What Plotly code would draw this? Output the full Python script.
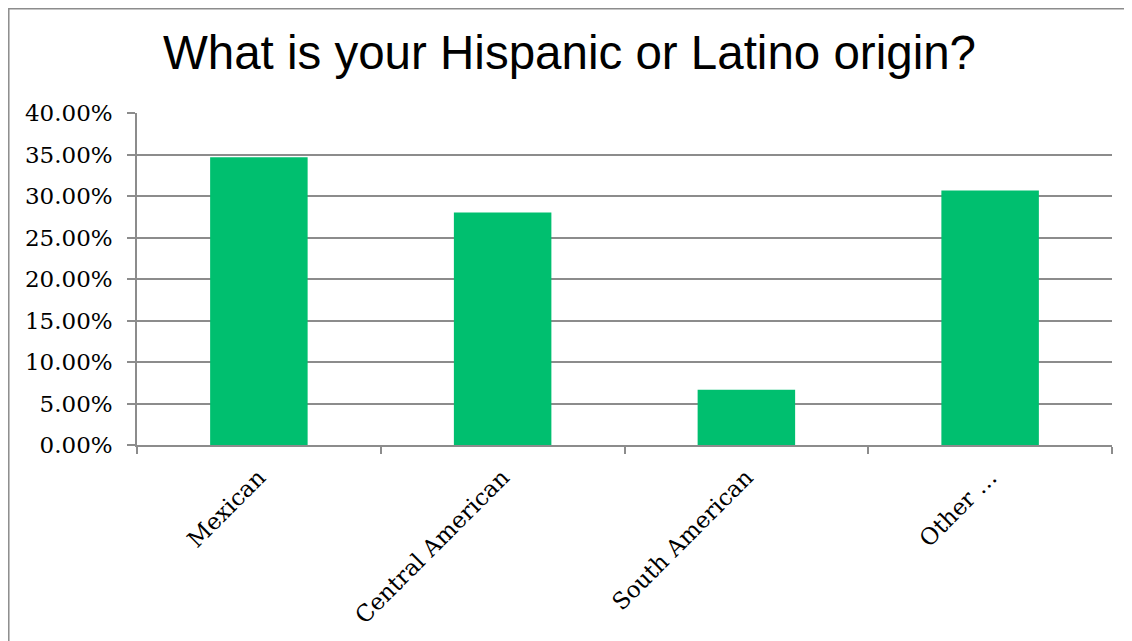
import plotly.graph_objects as go

categories = ["Mexican", "Central American", "South American", "Other …"]
values = [0.3467, 0.28, 0.0667, 0.3067]
y_ticks = [0, 0.05, 0.10, 0.15, 0.20, 0.25, 0.30, 0.35, 0.40]
y_tick_labels = ["0.00%", "5.00%", "10.00%", "15.00%", "20.00%", "25.00%", "30.00%", "35.00%", "40.00%"]

GRID = "#8c8c8c"
tick_font = dict(family="DejaVu Serif", size=23, color="#000000")

fig = go.Figure(
    go.Bar(
        x=categories,
        y=values,
        marker=dict(color="#00BF6F", line=dict(width=0)),
    )
)

fig.update_layout(
    width=1132,
    height=641,
    paper_bgcolor="white",
    plot_bgcolor="white",
    margin=dict(l=129, r=28, t=105, b=204),
    bargap=0.6,
    showlegend=False,
    title=dict(
        text="What is your Hispanic or Latino origin?",
        font=dict(family="Liberation Sans, Arial", size=47.5, color="#000000"),
        x=0.496,
        xanchor="center",
        y=0.93,
        yanchor="middle",
        xref="container",
        yref="container",
    ),
    xaxis=dict(
        showgrid=False,
        showline=True,
        linecolor=GRID,
        linewidth=1.5,
        ticks="outside",
        tickson="boundaries",
        ticklen=7,
        tickwidth=1.5,
        tickcolor=GRID,
        tickangle=-45,
        tickfont=tick_font,
        ticklabelstandoff=8,
    ),
    yaxis=dict(
        range=[0, 0.40],
        tickvals=y_ticks,
        ticktext=y_tick_labels,
        showgrid=True,
        gridcolor=GRID,
        gridwidth=1.5,
        showline=True,
        linecolor=GRID,
        linewidth=1.5,
        ticks="outside",
        ticklen=8,
        tickwidth=1.5,
        tickcolor=GRID,
        tickfont=tick_font,
        ticklabelstandoff=10,
        zeroline=False,
    ),
    shapes=[
        dict(
            type="rect",
            xref="paper",
            yref="paper",
            x0=-0.1315,
            x1=1.2,
            y0=-1.0,
            y1=1.314,
            line=dict(color="#8c8c8c", width=1.5),
            fillcolor="rgba(0,0,0,0)",
            layer="below",
        )
    ],
)

fig.write_html("out.html")
